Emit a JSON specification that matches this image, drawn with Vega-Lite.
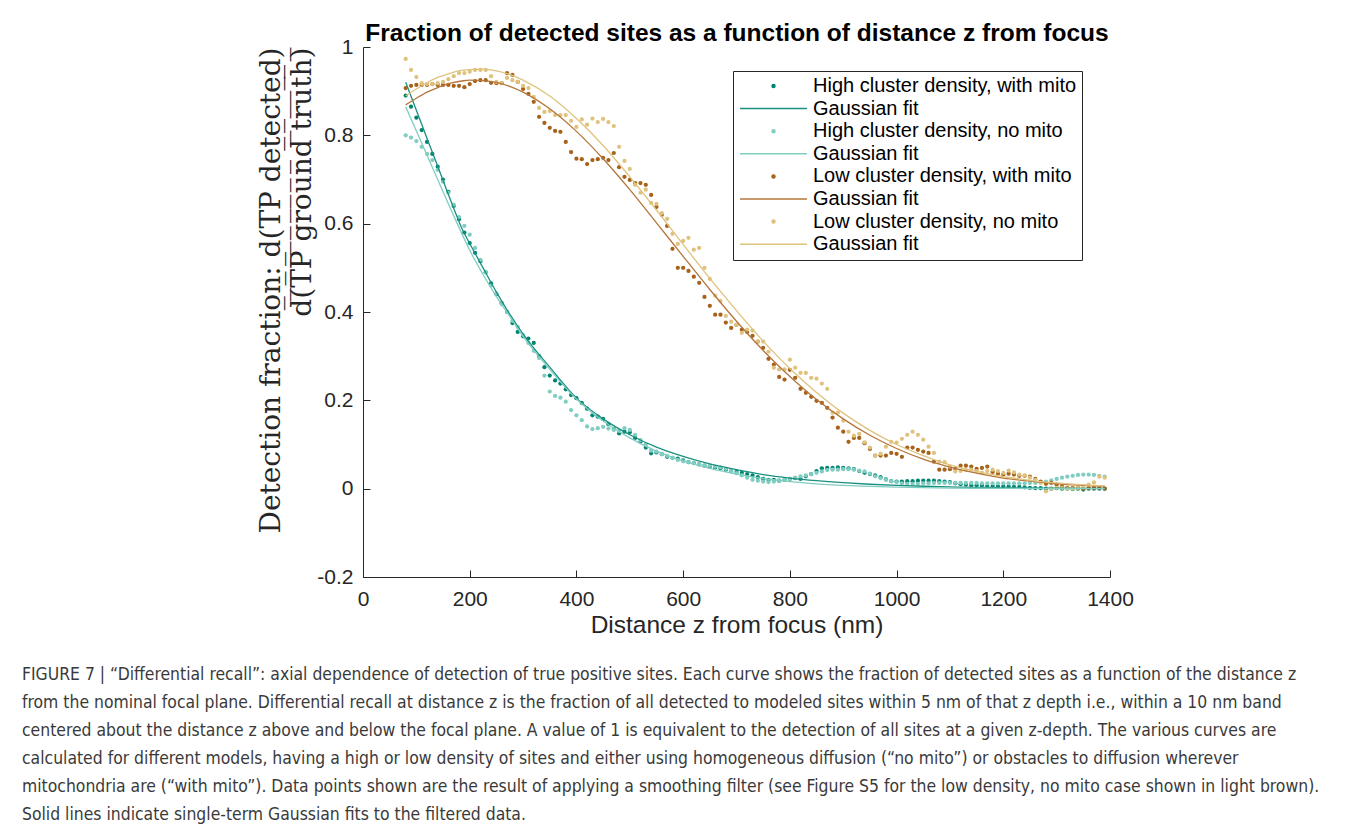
{
  "$schema": "https://vega.github.io/schema/vega-lite/v6.json",
  "width": 747,
  "height": 530,
  "autosize": "none",
  "padding": {"left": 363, "top": 47, "right": 247, "bottom": 250},
  "background": "white",
  "title": {
    "text": [
      "FIGURE 7 | “Differential recall”: axial dependence of detection of true positive sites. Each curve shows the fraction of detected sites as a function of the distance z",
      "from the nominal focal plane. Differential recall at distance z is the fraction of all detected to modeled sites within 5 nm of that z depth i.e., within a 10 nm band",
      "centered about the distance z above and below the focal plane. A value of 1 is equivalent to the detection of all sites at a given z-depth. The various curves are",
      "calculated for different models, having a high or low density of sites and either using homogeneous diffusion (“no mito”) or obstacles to diffusion wherever",
      "mitochondria are (“with mito”). Data points shown are the result of applying a smoothing filter (see Figure S5 for the low density, no mito case shown in light brown).",
      "Solid lines indicate single-term Gaussian fits to the filtered data."
    ],
    "orient": "bottom",
    "anchor": "start",
    "frame": "group",
    "dx": -341,
    "offset": 29,
    "font": "Liberation Sans Narrow, DejaVu Sans Condensed, Roboto, sans-serif",
    "fontSize": 17.4,
    "fontWeight": "normal",
    "color": "#3a3a3a",
    "lineHeight": 28,
    "align": "left",
    "baseline": "top"
  },
  "datasets": {
    "pts": [
      {"z":80,"hm":0.89,"hn":0.8,"lm":0.907,"ln":0.973},
      {"z":90,"hm":0.865,"hn":0.795,"lm":0.912,"ln":0.948},
      {"z":100,"hm":0.84,"hn":0.787,"lm":0.914,"ln":0.932},
      {"z":110,"hm":0.812,"hn":0.774,"lm":0.914,"ln":0.918},
      {"z":120,"hm":0.785,"hn":0.758,"lm":0.914,"ln":0.916},
      {"z":130,"hm":0.758,"hn":0.744,"lm":0.916,"ln":0.916},
      {"z":140,"hm":0.729,"hn":0.722,"lm":0.914,"ln":0.918},
      {"z":150,"hm":0.7,"hn":0.695,"lm":0.914,"ln":0.921},
      {"z":160,"hm":0.672,"hn":0.67,"lm":0.914,"ln":0.927},
      {"z":170,"hm":0.64,"hn":0.643,"lm":0.912,"ln":0.934},
      {"z":180,"hm":0.61,"hn":0.615,"lm":0.912,"ln":0.941},
      {"z":190,"hm":0.58,"hn":0.595,"lm":0.909,"ln":0.941},
      {"z":200,"hm":0.556,"hn":0.575,"lm":0.916,"ln":0.944},
      {"z":210,"hm":0.534,"hn":0.545,"lm":0.923,"ln":0.948},
      {"z":220,"hm":0.515,"hn":0.518,"lm":0.925,"ln":0.948},
      {"z":230,"hm":0.49,"hn":0.49,"lm":0.925,"ln":0.948},
      {"z":240,"hm":0.465,"hn":0.46,"lm":0.919,"ln":0.934},
      {"z":250,"hm":0.44,"hn":0.442,"lm":0.918,"ln":0.921},
      {"z":260,"hm":0.42,"hn":0.418,"lm":0.918,"ln":0.919},
      {"z":270,"hm":0.4,"hn":0.4,"lm":0.941,"ln":0.93},
      {"z":280,"hm":0.375,"hn":0.38,"lm":0.937,"ln":0.925},
      {"z":290,"hm":0.355,"hn":0.366,"lm":0.921,"ln":0.921},
      {"z":300,"hm":0.345,"hn":0.348,"lm":0.905,"ln":0.912},
      {"z":310,"hm":0.34,"hn":0.33,"lm":0.894,"ln":0.907},
      {"z":320,"hm":0.33,"hn":0.312,"lm":0.876,"ln":0.887},
      {"z":330,"hm":0.3,"hn":0.296,"lm":0.842,"ln":0.862},
      {"z":340,"hm":0.275,"hn":0.256,"lm":0.828,"ln":0.853},
      {"z":350,"hm":0.256,"hn":0.22,"lm":0.817,"ln":0.855},
      {"z":360,"hm":0.245,"hn":0.21,"lm":0.81,"ln":0.846},
      {"z":370,"hm":0.238,"hn":0.206,"lm":0.808,"ln":0.846},
      {"z":380,"hm":0.225,"hn":0.197,"lm":0.785,"ln":0.846},
      {"z":390,"hm":0.212,"hn":0.178,"lm":0.762,"ln":0.833},
      {"z":400,"hm":0.205,"hn":0.166,"lm":0.747,"ln":0.819},
      {"z":410,"hm":0.194,"hn":0.155,"lm":0.746,"ln":0.836},
      {"z":420,"hm":0.181,"hn":0.141,"lm":0.735,"ln":0.824},
      {"z":430,"hm":0.166,"hn":0.135,"lm":0.744,"ln":0.838},
      {"z":440,"hm":0.163,"hn":0.137,"lm":0.746,"ln":0.83},
      {"z":450,"hm":0.158,"hn":0.14,"lm":0.749,"ln":0.837},
      {"z":460,"hm":0.146,"hn":0.136,"lm":0.744,"ln":0.83},
      {"z":470,"hm":0.135,"hn":0.133,"lm":0.76,"ln":0.821},
      {"z":480,"hm":0.125,"hn":0.131,"lm":0.728,"ln":0.774},
      {"z":490,"hm":0.129,"hn":0.137,"lm":0.706,"ln":0.742},
      {"z":500,"hm":0.128,"hn":0.133,"lm":0.699,"ln":0.724},
      {"z":510,"hm":0.115,"hn":0.122,"lm":0.692,"ln":0.688},
      {"z":520,"hm":0.106,"hn":0.11,"lm":0.692,"ln":0.67},
      {"z":530,"hm":0.093,"hn":0.1,"lm":0.688,"ln":0.677},
      {"z":540,"hm":0.08,"hn":0.086,"lm":0.665,"ln":0.647},
      {"z":550,"hm":0.082,"hn":0.084,"lm":0.638,"ln":0.645},
      {"z":560,"hm":0.078,"hn":0.078,"lm":0.62,"ln":0.624},
      {"z":570,"hm":0.072,"hn":0.074,"lm":0.595,"ln":0.611},
      {"z":580,"hm":0.07,"hn":0.07,"lm":0.543,"ln":0.577},
      {"z":590,"hm":0.068,"hn":0.065,"lm":0.5,"ln":0.554},
      {"z":600,"hm":0.064,"hn":0.062,"lm":0.5,"ln":0.561},
      {"z":610,"hm":0.06,"hn":0.06,"lm":0.493,"ln":0.568},
      {"z":620,"hm":0.058,"hn":0.058,"lm":0.48,"ln":0.541},
      {"z":630,"hm":0.055,"hn":0.055,"lm":0.466,"ln":0.545},
      {"z":640,"hm":0.052,"hn":0.053,"lm":0.434,"ln":0.5},
      {"z":650,"hm":0.05,"hn":0.052,"lm":0.414,"ln":0.475},
      {"z":660,"hm":0.048,"hn":0.05,"lm":0.394,"ln":0.437},
      {"z":670,"hm":0.046,"hn":0.048,"lm":0.394,"ln":0.425},
      {"z":680,"hm":0.043,"hn":0.045,"lm":0.376,"ln":0.391},
      {"z":690,"hm":0.04,"hn":0.04,"lm":0.364,"ln":0.378},
      {"z":700,"hm":0.038,"hn":0.035,"lm":0.371,"ln":0.371},
      {"z":710,"hm":0.036,"hn":0.03,"lm":0.36,"ln":0.353},
      {"z":720,"hm":0.033,"hn":0.025,"lm":0.355,"ln":0.36},
      {"z":730,"hm":0.03,"hn":0.02,"lm":0.346,"ln":0.358},
      {"z":740,"hm":0.026,"hn":0.018,"lm":0.333,"ln":0.333},
      {"z":750,"hm":0.022,"hn":0.016,"lm":0.319,"ln":0.333},
      {"z":760,"hm":0.02,"hn":0.015,"lm":0.294,"ln":0.31},
      {"z":770,"hm":0.02,"hn":0.016,"lm":0.281,"ln":0.274},
      {"z":780,"hm":0.018,"hn":0.018,"lm":0.253,"ln":0.27},
      {"z":790,"hm":0.02,"hn":0.02,"lm":0.247,"ln":0.27},
      {"z":800,"hm":0.022,"hn":0.022,"lm":0.269,"ln":0.292},
      {"z":810,"hm":0.024,"hn":0.025,"lm":0.251,"ln":0.274},
      {"z":820,"hm":0.022,"hn":0.028,"lm":0.226,"ln":0.262},
      {"z":830,"hm":0.028,"hn":0.03,"lm":0.217,"ln":0.262},
      {"z":840,"hm":0.033,"hn":0.033,"lm":0.208,"ln":0.251},
      {"z":850,"hm":0.04,"hn":0.036,"lm":0.199,"ln":0.249},
      {"z":860,"hm":0.046,"hn":0.039,"lm":0.194,"ln":0.238},
      {"z":870,"hm":0.047,"hn":0.042,"lm":0.183,"ln":0.226},
      {"z":880,"hm":0.047,"hn":0.043,"lm":0.161,"ln":0.172},
      {"z":890,"hm":0.048,"hn":0.043,"lm":0.138,"ln":0.172},
      {"z":900,"hm":0.047,"hn":0.044,"lm":0.129,"ln":0.154},
      {"z":910,"hm":0.046,"hn":0.044,"lm":0.106,"ln":0.129},
      {"z":920,"hm":0.044,"hn":0.043,"lm":0.115,"ln":0.12},
      {"z":930,"hm":0.04,"hn":0.041,"lm":0.115,"ln":0.124},
      {"z":940,"hm":0.036,"hn":0.039,"lm":0.103,"ln":0.105},
      {"z":950,"hm":0.033,"hn":0.034,"lm":0.09,"ln":0.093},
      {"z":960,"hm":0.03,"hn":0.028,"lm":0.075,"ln":0.075},
      {"z":970,"hm":0.026,"hn":0.024,"lm":0.075,"ln":0.079},
      {"z":980,"hm":0.021,"hn":0.02,"lm":0.075,"ln":0.095},
      {"z":990,"hm":0.017,"hn":0.017,"lm":0.081,"ln":0.106},
      {"z":1000,"hm":0.016,"hn":0.015,"lm":0.079,"ln":0.104},
      {"z":1010,"hm":0.016,"hn":0.012,"lm":0.072,"ln":0.113},
      {"z":1020,"hm":0.017,"hn":0.011,"lm":0.093,"ln":0.122},
      {"z":1030,"hm":0.017,"hn":0.011,"lm":0.093,"ln":0.129},
      {"z":1040,"hm":0.018,"hn":0.011,"lm":0.088,"ln":0.122},
      {"z":1050,"hm":0.018,"hn":0.012,"lm":0.084,"ln":0.111},
      {"z":1060,"hm":0.018,"hn":0.012,"lm":0.081,"ln":0.095},
      {"z":1070,"hm":0.018,"hn":0.013,"lm":0.061,"ln":0.081},
      {"z":1080,"hm":0.017,"hn":0.013,"lm":0.043,"ln":0.061},
      {"z":1090,"hm":0.016,"hn":0.013,"lm":0.043,"ln":0.06},
      {"z":1100,"hm":0.015,"hn":0.013,"lm":0.044,"ln":0.05},
      {"z":1110,"hm":0.012,"hn":0.013,"lm":0.045,"ln":0.039},
      {"z":1120,"hm":0.01,"hn":0.013,"lm":0.052,"ln":0.04},
      {"z":1130,"hm":0.009,"hn":0.013,"lm":0.052,"ln":0.042},
      {"z":1140,"hm":0.008,"hn":0.013,"lm":0.05,"ln":0.043},
      {"z":1150,"hm":0.008,"hn":0.013,"lm":0.045,"ln":0.04},
      {"z":1160,"hm":0.007,"hn":0.012,"lm":0.047,"ln":0.036},
      {"z":1170,"hm":0.006,"hn":0.012,"lm":0.05,"ln":0.04},
      {"z":1180,"hm":0.006,"hn":0.012,"lm":0.038,"ln":0.043},
      {"z":1190,"hm":0.005,"hn":0.012,"lm":0.034,"ln":0.04},
      {"z":1200,"hm":0.005,"hn":0.012,"lm":0.032,"ln":0.036},
      {"z":1210,"hm":0.005,"hn":0.012,"lm":0.034,"ln":0.041},
      {"z":1220,"hm":0.004,"hn":0.012,"lm":0.032,"ln":0.037},
      {"z":1230,"hm":0.004,"hn":0.012,"lm":0.029,"ln":0.032},
      {"z":1240,"hm":0.003,"hn":0.012,"lm":0.029,"ln":0.03},
      {"z":1250,"hm":0.002,"hn":0.013,"lm":0.027,"ln":0.025},
      {"z":1260,"hm":0.001,"hn":0.013,"lm":0.022,"ln":0.02},
      {"z":1270,"hm":0.001,"hn":0.015,"lm":0.016,"ln":0.013},
      {"z":1280,"hm":0.0,"hn":0.016,"lm":0.011,"ln":-0.006},
      {"z":1290,"hm":0.0,"hn":0.019,"lm":0.013,"ln":0.0},
      {"z":1300,"hm":0.001,"hn":0.022,"lm":0.009,"ln":0.002},
      {"z":1310,"hm":0.0,"hn":0.025,"lm":0.005,"ln":0.002},
      {"z":1320,"hm":0.0,"hn":0.027,"lm":0.002,"ln":0.0},
      {"z":1330,"hm":-0.001,"hn":0.029,"lm":0.002,"ln":0.0},
      {"z":1340,"hm":0.0,"hn":0.031,"lm":0.002,"ln":0.002},
      {"z":1350,"hm":-0.002,"hn":0.032,"lm":0.0,"ln":0.005},
      {"z":1360,"hm":0.0,"hn":0.032,"lm":0.001,"ln":0.009},
      {"z":1370,"hm":0.0,"hn":0.031,"lm":0.002,"ln":0.014},
      {"z":1380,"hm":0.0,"hn":0.029,"lm":0.002,"ln":0.027},
      {"z":1390,"hm":0.0,"hn":0.027,"lm":0.0,"ln":0.025}
    ],
    "fits": [
      {"z":80,"fhm":0.92,"fhn":0.865,"flm":0.869,"fln":0.889},
      {"z":100,"fhm":0.857,"fhn":0.81,"flm":0.884,"fln":0.905},
      {"z":120,"fhm":0.793,"fhn":0.755,"flm":0.898,"fln":0.919},
      {"z":140,"fhm":0.73,"fhn":0.7,"flm":0.908,"fln":0.931},
      {"z":160,"fhm":0.666,"fhn":0.645,"flm":0.917,"fln":0.939},
      {"z":170,"fhm":0.635,"fhn":0.618,"flm":0.92,"fln":0.943},
      {"z":185,"fhm":0.59,"fhn":0.578,"flm":0.923,"fln":0.947},
      {"z":200,"fhm":0.555,"fhn":0.54,"flm":0.925,"fln":0.949},
      {"z":225,"fhm":0.5,"fhn":0.485,"flm":0.924,"fln":0.95},
      {"z":250,"fhm":0.445,"fhn":0.435,"flm":0.92,"fln":0.946},
      {"z":275,"fhm":0.395,"fhn":0.39,"flm":0.911,"fln":0.938},
      {"z":300,"fhm":0.35,"fhn":0.345,"flm":0.898,"fln":0.925},
      {"z":350,"fhm":0.275,"fhn":0.27,"flm":0.86,"fln":0.889},
      {"z":400,"fhm":0.205,"fhn":0.203,"flm":0.809,"fln":0.838},
      {"z":450,"fhm":0.158,"fhn":0.153,"flm":0.747,"fln":0.777},
      {"z":500,"fhm":0.122,"fhn":0.115,"flm":0.677,"fln":0.706},
      {"z":550,"fhm":0.094,"fhn":0.085,"flm":0.602,"fln":0.631},
      {"z":600,"fhm":0.073,"fhn":0.063,"flm":0.526,"fln":0.553},
      {"z":650,"fhm":0.056,"fhn":0.046,"flm":0.451,"fln":0.476},
      {"z":700,"fhm":0.043,"fhn":0.033,"flm":0.379,"fln":0.403},
      {"z":750,"fhm":0.032,"fhn":0.023,"flm":0.313,"fln":0.334},
      {"z":800,"fhm":0.024,"fhn":0.016,"flm":0.254,"fln":0.272},
      {"z":850,"fhm":0.018,"fhn":0.011,"flm":0.202,"fln":0.218},
      {"z":900,"fhm":0.0135,"fhn":0.0075,"flm":0.158,"fln":0.171},
      {"z":950,"fhm":0.01,"fhn":0.005,"flm":0.121,"fln":0.132},
      {"z":1000,"fhm":0.0075,"fhn":0.0033,"flm":0.091,"fln":0.1},
      {"z":1050,"fhm":0.0055,"fhn":0.0022,"flm":0.067,"fln":0.075},
      {"z":1100,"fhm":0.004,"fhn":0.0014,"flm":0.049,"fln":0.054},
      {"z":1150,"fhm":0.003,"fhn":0.0009,"flm":0.035,"fln":0.039},
      {"z":1200,"fhm":0.002,"fhn":0.0006,"flm":0.024,"fln":0.0275},
      {"z":1250,"fhm":0.0015,"fhn":0.0004,"flm":0.017,"fln":0.019},
      {"z":1300,"fhm":0.001,"fhn":0.0002,"flm":0.011,"fln":0.013},
      {"z":1350,"fhm":0.0007,"fhn":0.0001,"flm":0.0074,"fln":0.0086},
      {"z":1390,"fhm":0.0005,"fhn":0.0001,"flm":0.0053,"fln":0.006}
    ]
  },
  "layer": [
    {
      "data": {"name": "pts"},
      "transform": [{"fold": ["hm", "hn", "lm", "ln"], "as": ["series", "f"]}],
      "mark": {"type": "point", "filled": true, "size": 18, "opacity": 1},
      "encoding": {
        "x": {
          "field": "z", "type": "quantitative",
          "scale": {"domain": [0, 1400], "nice": false, "zero": false},
          "axis": {
            "orient": "bottom",
            "values": [0, 200, 400, 600, 800, 1000, 1200, 1400],
            "labelExpr": "'' + datum.value",
            "title": "Distance z from focus (nm)",
            "titleFont": "Liberation Sans", "titleFontSize": 24.5, "titleFontWeight": "normal",
            "titleColor": "#262626", "titlePadding": 4,
            "labelFont": "Liberation Sans", "labelFontSize": 21, "labelColor": "#262626",
            "labelPadding": 18, "labelFlush": false, "labelOverlap": false,
            "tickSize": -7, "tickColor": "#262626", "domainColor": "#262626", "grid": false
          }
        },
        "y": {
          "field": "f", "type": "quantitative",
          "scale": {"domain": [-0.2, 1], "nice": false, "zero": false},
          "axis": {
            "values": [-0.2, 0, 0.2, 0.4, 0.6, 0.8, 1],
            "labelExpr": "'' + datum.value",
            "title": ["Detection fraction:  d(TP detected)", "d\u0305(\u0305T\u0305P\u0305 \u0305g\u0305r\u0305o\u0305u\u0305n\u0305d\u0305 \u0305t\u0305r\u0305u\u0305t\u0305h\u0305)\u0305"],
            "titleFont": "DejaVu Serif", "titleFontSize": 28, "titleFontWeight": "normal",
            "titleColor": "#262626", "titleAnchor": "end", "titleAlign": "right",
            "titleLineHeight": 31, "titlePadding": 0,
            "labelFont": "Liberation Sans", "labelFontSize": 21, "labelColor": "#262626",
            "labelPadding": 17, "labelFlush": false, "labelOverlap": false,
            "tickSize": -7, "tickColor": "#262626", "domainColor": "#262626", "grid": false
          }
        },
        "color": {
          "field": "series", "type": "nominal",
          "scale": {
            "domain": ["hm", "fhm", "hn", "fhn", "lm", "flm", "ln", "fln"],
            "range": ["#018571", "#1a9080", "#80cdc1", "#80cdc1", "#a6611a", "#b5763a", "#dfc27d", "#dfc27d"]
          },
          "legend": {
            "title": null,
            "labelExpr": "datum.value == 'hm' ? 'High cluster density, with mito' : datum.value == 'hn' ? 'High cluster density, no mito' : datum.value == 'lm' ? 'Low cluster density, with mito' : datum.value == 'ln' ? 'Low cluster density, no mito' : 'Gaussian fit'",
            "encode": {"symbols": {"update": {"stroke": {"scale": "color", "field": "value"}, "strokeWidth": {"value": 1.5}}}}
          }
        },
        "shape": {
          "field": "series", "type": "nominal",
          "scale": {
            "domain": ["hm", "fhm", "hn", "fhn", "lm", "flm", "ln", "fln"],
            "range": ["circle", "M-22.3,0L22.3,0", "circle", "M-22.3,0L22.3,0", "circle", "M-22.3,0L22.3,0", "circle", "M-22.3,0L22.3,0"]
          },
          "legend": {
            "title": null,
            "labelExpr": "datum.value == 'hm' ? 'High cluster density, with mito' : datum.value == 'hn' ? 'High cluster density, no mito' : datum.value == 'lm' ? 'Low cluster density, with mito' : datum.value == 'ln' ? 'Low cluster density, no mito' : 'Gaussian fit'",
            "encode": {"symbols": {"update": {"stroke": {"scale": "color", "field": "value"}, "strokeWidth": {"value": 1.5}}}}
          }
        }
      }
    },
    {
      "data": {"name": "fits"},
      "transform": [{"fold": ["fhm", "fhn", "flm", "fln"], "as": ["series", "f"]}],
      "mark": {"type": "line", "interpolate": "monotone", "strokeWidth": 1.3},
      "encoding": {
        "x": {
          "field": "z", "type": "quantitative",
          "axis": {
            "orient": "top",
            "title": "Fraction of detected sites as a function of distance z from focus",
            "titleFont": "Liberation Sans", "titleFontSize": 24.5, "titleFontWeight": "bold",
            "titleColor": "black", "titlePadding": 2,
            "labels": false, "ticks": false, "domain": false, "grid": false
          }
        },
        "y": {"field": "f", "type": "quantitative"},
        "color": {"field": "series", "type": "nominal"}
      }
    }
  ],
  "resolve": {"axis": {"x": "independent"}},
  "config": {
    "view": {"stroke": null},
    "legend": {
      "orient": "none",
      "legendX": 370,
      "legendY": 24,
      "padding": 5,
      "symbolSize": 9,
      "symbolOffset": 25.5,
      "labelOffset": 29.5,
      "rowPadding": 2.6,
      "labelFont": "Liberation Sans",
      "labelFontSize": 20,
      "labelColor": "black",
      "labelLimit": 500,
      "strokeColor": "#262626",
      "fillColor": "white",
      "symbolStrokeWidth": 1.5
    }
  }
}
